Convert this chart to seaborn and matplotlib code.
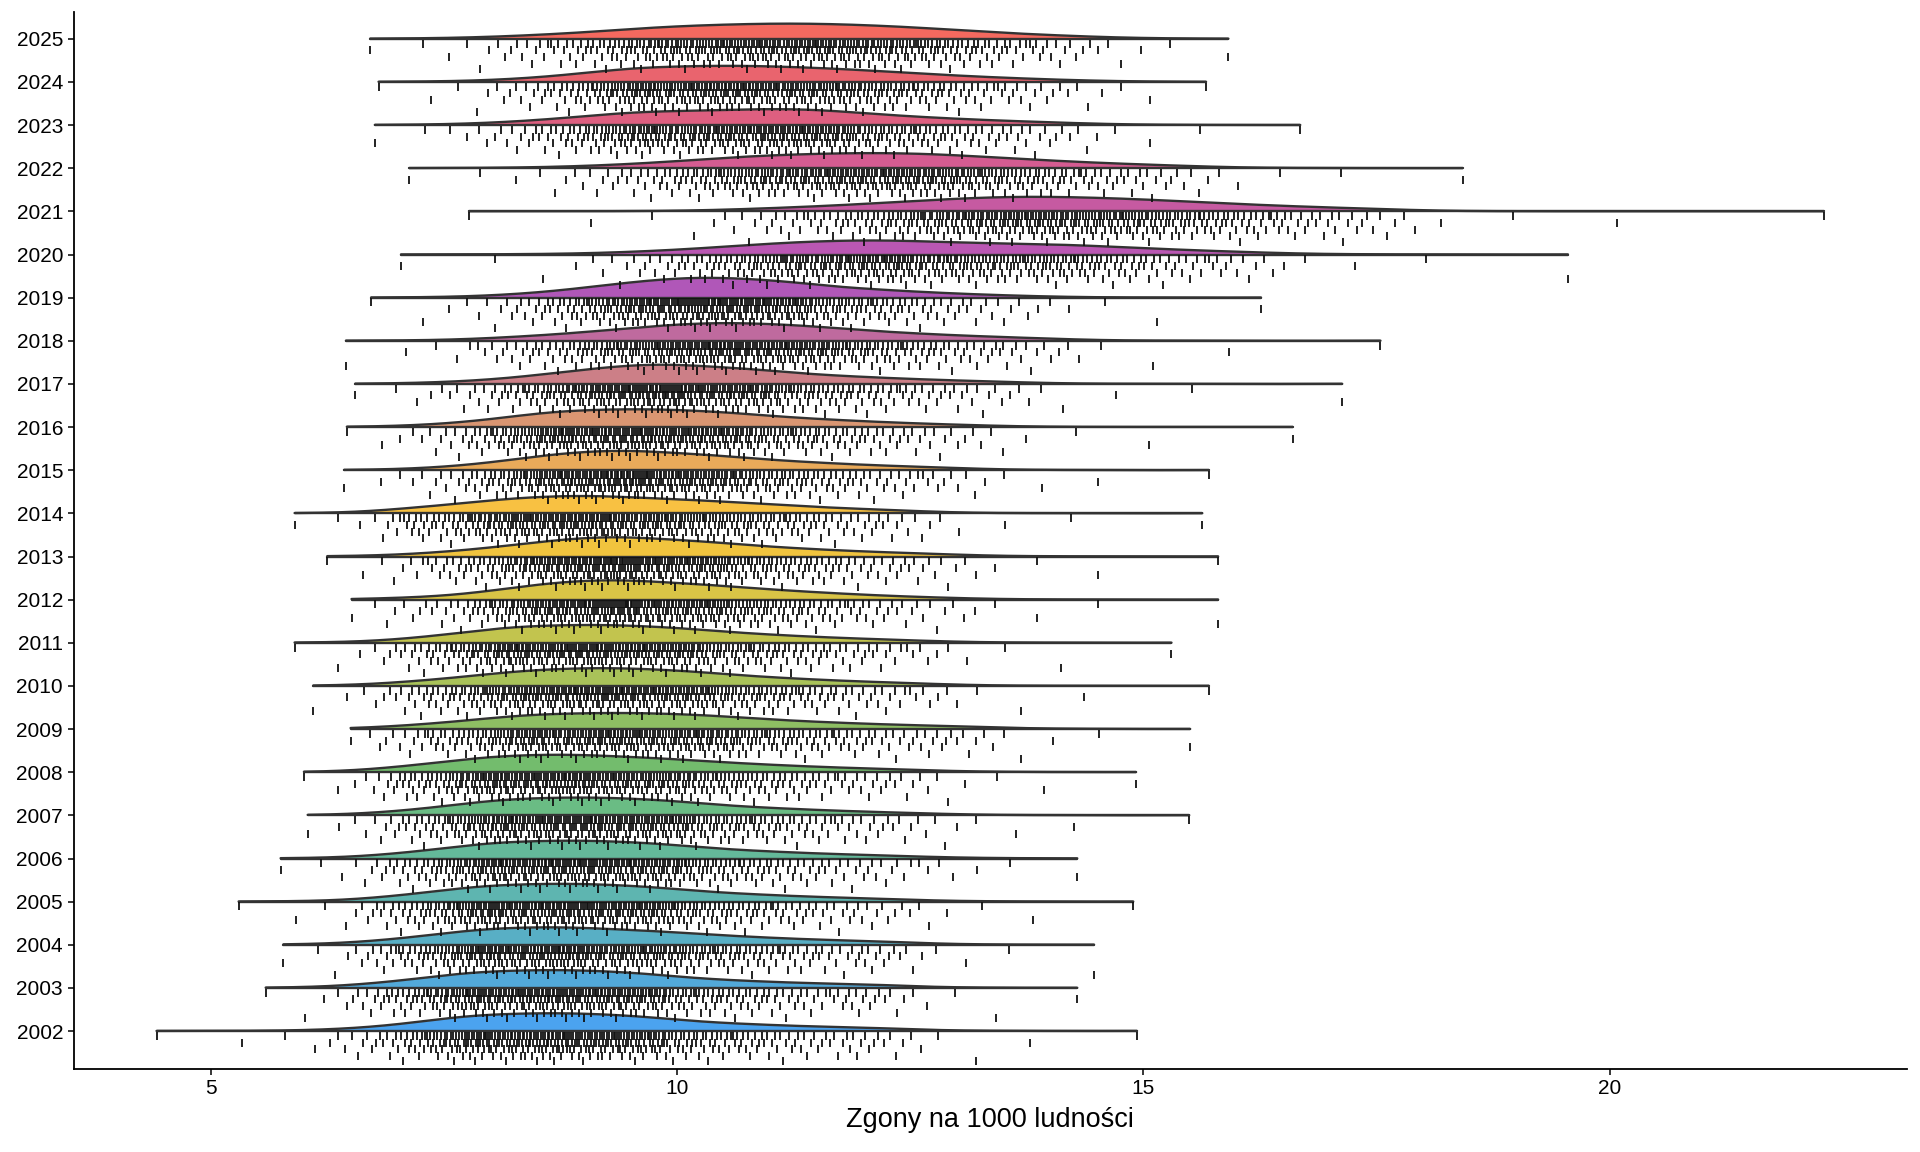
import math
import numpy as np
import pandas as pd
import matplotlib
matplotlib.use("Agg")
import matplotlib.pyplot as plt
import seaborn as sns

# lata (od dołu do góry)
years = list(range(2002, 2026))

# kwantyle (zgony na 1000 ludności)
q_levels = [0.0, 0.01, 0.05, 0.25, 0.50, 0.75, 0.95, 0.99, 1.0]
q_2002 = [4.42, 6.2, 7.0, 8.0, 8.9, 9.9, 11.8, 12.7, 14.93]
q_2003 = [5.59, 6.4, 7.0, 8.0, 8.9, 9.9, 11.8, 12.6, 14.29]
q_2004 = [5.78, 6.5, 7.1, 8.1, 9.0, 10.1, 11.9, 12.7, 14.47]
q_2005 = [5.30, 6.5, 7.1, 8.1, 9.0, 10.0, 11.8, 12.8, 14.89]
q_2006 = [5.75, 6.6, 7.2, 8.2, 9.1, 10.1, 11.9, 12.9, 14.29]
q_2007 = [6.04, 6.7, 7.3, 8.3, 9.2, 10.2, 12.0, 13.1, 15.49]
q_2008 = [6.00, 6.7, 7.2, 8.2, 9.1, 10.2, 12.0, 13.0, 14.92]
q_2009 = [6.50, 6.9, 7.5, 8.6, 9.6, 10.7, 12.6, 13.6, 15.50]
q_2010 = [6.10, 6.8, 7.4, 8.5, 9.4, 10.4, 12.1, 13.1, 15.70]
q_2011 = [5.90, 6.8, 7.4, 8.4, 9.3, 10.3, 12.0, 13.0, 15.30]
q_2012 = [6.51, 7.0, 7.8, 8.8, 9.6, 10.6, 12.2, 13.3, 15.80]
q_2013 = [6.25, 7.0, 7.7, 8.8, 9.6, 10.6, 12.3, 13.3, 15.80]
q_2014 = [5.90, 6.8, 7.3, 8.4, 9.3, 10.4, 12.0, 12.9, 15.63]
q_2015 = [6.43, 7.2, 7.9, 8.9, 9.7, 10.7, 12.4, 13.4, 15.70]
q_2016 = [6.46, 7.2, 7.9, 8.9, 9.8, 10.8, 12.5, 13.6, 16.60]
q_2017 = [6.55, 7.4, 8.2, 9.3, 10.1, 11.1, 12.9, 14.0, 17.13]
q_2018 = [6.45, 7.7, 8.5, 9.8, 10.7, 11.7, 13.4, 14.4, 17.54]
q_2019 = [6.72, 7.8, 8.6, 9.7, 10.5, 11.4, 13.0, 14.1, 16.26]
q_2020 = [7.04, 9.0, 10.0, 11.4, 12.5, 13.9, 15.6, 16.6, 19.55]
q_2021 = [7.77, 10.3, 11.3, 12.9, 14.0, 15.2, 17.0, 18.0, 22.29]
q_2022 = [7.13, 8.6, 9.6, 11.0, 12.1, 13.2, 14.9, 15.9, 18.42]
q_2023 = [6.76, 7.8, 8.6, 9.8, 10.9, 11.9, 13.6, 14.6, 16.68]
q_2024 = [6.80, 7.9, 8.7, 9.8, 10.8, 11.9, 13.5, 14.5, 15.67]
q_2025 = [6.71, 7.8, 8.7, 10.1, 11.2, 12.3, 13.8, 14.7, 15.91]

quantiles = [q_2002, q_2003, q_2004, q_2005, q_2006, q_2007, q_2008, q_2009,
             q_2010, q_2011, q_2012, q_2013, q_2014, q_2015, q_2016, q_2017,
             q_2018, q_2019, q_2020, q_2021, q_2022, q_2023, q_2024, q_2025]

n_powiaty = 380

colors = ["#4BA3EF", "#52A9DA", "#58AFC5", "#5EB5B0", "#64B99A", "#6ABC84",
          "#73BC6D", "#8EBF63", "#A9C259", "#C2C44E", "#D9C446", "#F1C43E",
          "#F8C142", "#E9AA5A", "#DA9672", "#CC7F87", "#BF6A9E", "#B057B8",
          "#BA57B3", "#C65AA1", "#D45C91", "#DE5F80", "#E9646E", "#F4695F"]

# funkcja kwantylowa w skali normalnej (gładsze przejścia między kwantylami)
zg = np.linspace(-3.5, 3.5, 4001)
cdf = np.array([0.5 * (1 + math.erf(z / math.sqrt(2))) for z in zg])
p_k = (np.arange(n_powiaty) + 0.5) / n_powiaty
z_k = np.interp(p_k, cdf, zg)
z_lev = np.interp(q_levels, cdf, zg)
z_lev[0], z_lev[-1] = z_k[0], z_k[-1]

rows = []
for year, q in zip(years, quantiles):
    vals = np.interp(z_k, z_lev, q)
    rows.append(pd.DataFrame({"rok": year, "wartosc": vals}))
df = pd.concat(rows, ignore_index=True)


def kde(v, grid):
    sd = v.std(ddof=1)
    iqr = np.subtract(*np.percentile(v, [75, 25]))
    bw = 0.9 * min(sd, iqr / 1.34) * len(v) ** (-0.2)
    z = (grid[:, None] - v[None, :]) / bw
    return np.exp(-0.5 * z ** 2).sum(axis=1) / (len(v) * bw * np.sqrt(2 * np.pi))


dens = {}
for year in years:
    v = df.loc[df.rok == year, "wartosc"].values
    grid = np.linspace(v.min(), v.max(), 512)
    dens[year] = (grid, kde(v, grid))
dmax = max(d.max() for g, d in dens.values())
scale = 0.46 / dmax

# poziomy pionowego rozrzutu kresek (więcej tuż pod linią bazową)
level_depth = np.array([0.11, 0.265, 0.42, 0.575, 0.70])
level_cum = np.array([0.40, 0.68, 0.87, 0.97, 1.0])

sns.set_theme(style="ticks")
plt.rcParams["font.family"] = ["Liberation Sans", "DejaVu Sans"]

fig, ax = plt.subplots(figsize=(19.2, 11.52), dpi=100)
fig.subplots_adjust(left=0.0383, right=0.993, bottom=0.072, top=0.9895)

# od góry do dołu, żeby niższe wiersze rysowały się na wierzchu
for i, year in reversed(list(enumerate(years))):
    base = i + 1
    zo = 2 + (24 - i) * 0.01
    grid, d = dens[year]
    h = d * scale
    ax.fill_between(grid, base, base + h, color=colors[i], lw=0, zorder=zo)
    ax.plot(grid, base + h, color="#333333", lw=1.7, zorder=zo + 0.005)
    ax.plot([grid[0], grid[-1]], [base, base], color="#333333", lw=1.7, zorder=zo + 0.005)

    v = np.sort(df.loc[df.rok == year, "wartosc"].values)
    k = np.arange(len(v))
    u = (k * 0.6180339887 + 0.37 * i) % 1.0
    depth = level_depth[np.searchsorted(level_cum, u)]
    sns.scatterplot(x=v, y=base - depth, marker="|", color="#111111", s=26,
                    linewidth=1.3, ax=ax, zorder=3, legend=False)

ax.set_xlim(3.53, 23.18)
ax.set_ylim(0.12, 24.62)
ax.set_xticks([5, 10, 15, 20])
ax.set_yticks(range(1, 25))
ax.set_yticklabels([str(y) for y in years])
ax.set_xlabel("Zgony na 1000 ludności", fontsize=19.5, color="black", labelpad=6)
ax.set_ylabel("")
ax.tick_params(axis="both", labelsize=15, colors="black", length=4, width=1.1)
for s in ["left", "bottom"]:
    ax.spines[s].set_linewidth(1.3)
    ax.spines[s].set_color("black")
sns.despine(ax=ax)

fig.savefig("out.png", dpi=100)
